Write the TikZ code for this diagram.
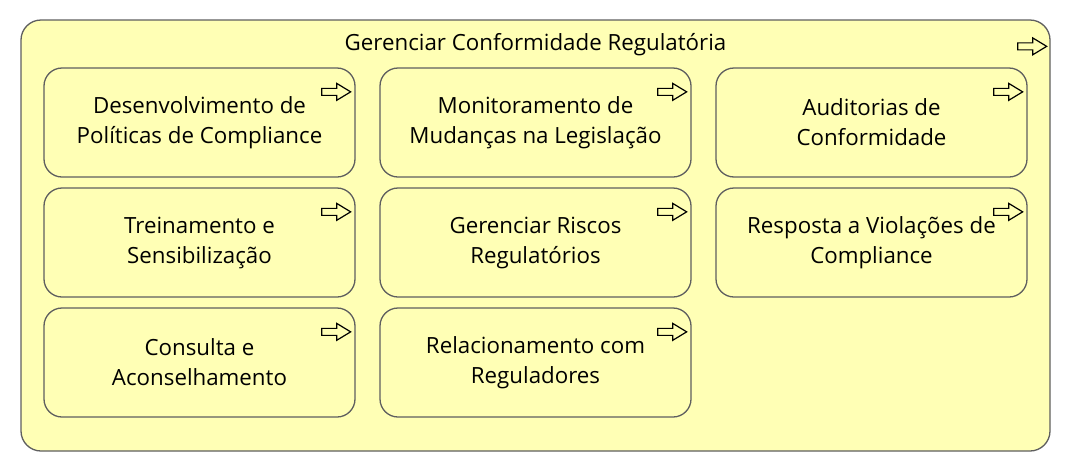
\documentclass[tikz,border=0pt]{standalone}
\usepackage{fontspec}
\setmainfont{Open Sans}
\usetikzlibrary{positioning}
\definecolor{bizyellow}{RGB}{255,255,181}
\definecolor{bizgray}{RGB}{95,95,95}

\begin{document}
\begin{tikzpicture}[
    x=1pt,y=1pt,
    group/.style={rectangle,rounded corners=20pt,draw=bizgray,line width=1.3pt,fill=bizyellow,minimum width=1029pt,minimum height=431pt,inner sep=0},
    func/.style={rectangle,rounded corners=18pt,draw=bizgray,line width=1.3pt,fill=bizyellow,minimum width=311pt,minimum height=109pt,align=center,font=\fontsize{22.3}{30}\selectfont},
    icon/.style={draw=black,line width=1.2pt,line join=miter},
  ]
    \useasboundingbox (0,0) rectangle (1072,-472);
    \node[group] (grp) at (535.5,-235.5) {};
    \node[font=\fontsize{22.3}{30}\selectfont] (title) at (535.5,-45) {Gerenciar Conformidade Regulatória};
    % functions, row by row
    \node[func] (f11) at (199.5,-122.5) {Desenvolvimento de\\Políticas de Compliance};
    \node[func] (f12) at (535.5,-122.5) {Monitoramento de\\Mudanças na Legislação};
    \node[func] (f13) at (871.5,-122.5) {Auditorias de\\Conformidade};
    \node[func] (f21) at (199.5,-242.5) {Treinamento e\\Sensibilização};
    \node[func] (f22) at (535.5,-242.5) {Gerenciar Riscos\\Regulatórios};
    \node[func] (f23) at (871.5,-242.5) {Resposta a Violações de\\Compliance};
    \node[func] (f31) at (199.5,-362.5) {Consulta e\\Aconselhamento};
    \node[func] (f32) at (535.5,-362.5) {Relacionamento com\\Reguladores};
    % function icons
    \foreach \n/\dx/\dy in {grp/-33/-23.5,f11/-34/-21,f12/-34/-21,f13/-34/-21,f21/-34/-21,f22/-34/-21,f23/-34/-21,f31/-34/-21,f32/-34/-21}
      \draw[icon] ([shift={(\dx,\dy)}]\n.north east) -- ++(15,0) -- ++(0,5) -- ++(14,-8.5) -- ++(-14,-8.5) -- ++(0,5) -- ++(-15,0) -- cycle;
  \end{tikzpicture}
\end{document}
